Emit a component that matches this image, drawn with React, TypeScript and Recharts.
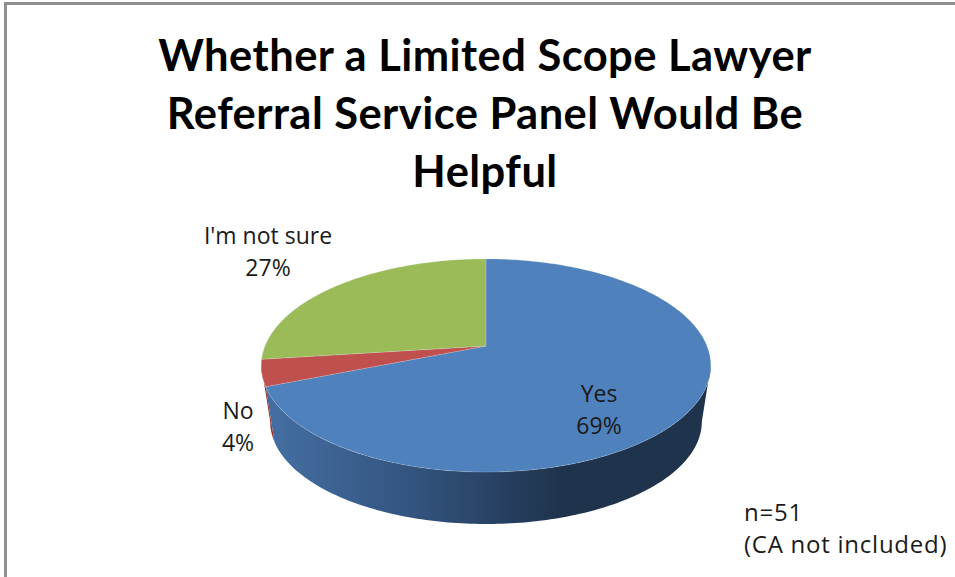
import React from 'react';
import { PieChart, Pie, Cell } from 'recharts';

const categories = ['Yes', 'No', "I'm not sure"];
const percents = [69, 4, 27];
const titleLines = ['Whether a Limited Scope Lawyer', 'Referral Service Panel Would Be', 'Helpful'];
const noteLines = ['n=51', '(CA not included)'];

const topColors = ['#4f81bd', '#c0504d', '#9bbb59'];
const wallColors = ['url(#blueWall)', '#953735', '#76923c'];

const data = categories.map((name, i) => ({ name, value: percents[i] }));

// where each data label sits (centre x, first baseline)
const labelAnchors = [
  { x: 599, y: 402 },
  { x: 238, y: 419 },
  { x: 268, y: 244 },
];

const CX = 486;
const CY = 346;
const RADIUS = 221;
const TILT = 0.466; // flattening of the disc
const K = 0.183; // perspective strength
const WALL_DROP = 57;
const WALL_SCALE = 0.96;
const TITLE_FONT = 'Lato, Carlito, Calibri, sans-serif';
const FONT = '"Open Sans", Carlito, Calibri, sans-serif';

// project a pie angle onto the tilted disc
const project = (deg: number, cx: number, cy: number, r: number, scale = 1, drop = 0) => {
  const rad = (deg * Math.PI) / 180;
  const u = Math.cos(rad);
  const v = -Math.sin(rad);
  const w = 1 - K * v;
  return [cx + (scale * r * u) / w, cy + drop + (scale * r * TILT * v) / w];
};

const arcPoints = (from: number, to: number, cx: number, cy: number, r: number, scale = 1, drop = 0) => {
  const steps = Math.max(2, Math.ceil(Math.abs(from - to)));
  const pts: number[][] = [];
  for (let i = 0; i <= steps; i++) {
    pts.push(project(from + ((to - from) * i) / steps, cx, cy, r, scale, drop));
  }
  return pts;
};

const toPath = (pts: number[][]) =>
  pts.map((p, i) => `${i ? 'L' : 'M'}${p[0].toFixed(2)},${p[1].toFixed(2)}`).join(' ') + ' Z';

const TopSlice = (props: any) => {
  const { cx, cy, outerRadius, startAngle, endAngle, fill } = props;
  const pts = [[cx, cy], ...arcPoints(startAngle, endAngle, cx, cy, outerRadius)];
  return <path d={toPath(pts)} fill={fill} stroke="#dfe6ee" strokeOpacity={0.35} strokeWidth={0.6} />;
};

// only the part of the rim that faces the viewer gets a wall
const WallSlice = (props: any) => {
  const { cx, cy, outerRadius, startAngle, endAngle, fill } = props;
  const tangent = (Math.asin(K) * 180) / Math.PI;
  const from = Math.min(startAngle, -tangent);
  const to = Math.max(endAngle, -180 + tangent);
  if (from <= to) return <g />;
  const upper = arcPoints(from, to, cx, cy, outerRadius);
  const lower = arcPoints(to, from, cx, cy, outerRadius, WALL_SCALE, WALL_DROP);
  return <path d={toPath([...upper, ...lower])} fill={fill} stroke="none" />;
};

const renderLabel = (props: any) => {
  const { index, name, value } = props;
  const a = labelAnchors[index];
  return (
    <text x={a.x} y={a.y} textAnchor="middle" fontFamily={FONT} fontSize={23} fill="#1a1a1a">
      <tspan x={a.x}>{name}</tspan>
      <tspan x={a.x} dy={32}>{`${value}%`}</tspan>
    </text>
  );
};

export default function App() {
  return (
    <div style={{ position: 'absolute', left: 0, top: 0, width: 955, height: 577, background: '#fff', overflow: 'hidden' }}>
      <div style={{ position: 'absolute', left: 4, top: 2, right: 0, height: 3, background: '#8f8f8f' }} />
      <div style={{ position: 'absolute', left: 4, top: 2, bottom: 0, width: 3, background: '#8f8f8f' }} />
      <PieChart width={955} height={577} margin={{ top: 0, right: 0, bottom: 0, left: 0 }}>
        <defs>
          <linearGradient id="blueWall" gradientUnits="userSpaceOnUse" x1={265} y1={0} x2={560} y2={0}>
            <stop offset="0%" stopColor="#456fa3" />
            <stop offset="50%" stopColor="#33547f" />
            <stop offset="100%" stopColor="#1f334d" />
          </linearGradient>
        </defs>
        {titleLines.map((line, i) => (
          <text
            key={line}
            x={485}
            y={71 + i * 58}
            textAnchor="middle"
            fontFamily={TITLE_FONT}
            fontWeight={700}
            fontSize={43.5}
            letterSpacing={0.45}
            fill="#000"
          >
            {line}
          </text>
        ))}
        <Pie
          data={data}
          dataKey="value"
          nameKey="name"
          cx={CX}
          cy={CY}
          outerRadius={RADIUS}
          startAngle={90}
          endAngle={-270}
          shape={WallSlice}
          stroke="none"
          isAnimationActive={false}
        >
          {data.map((d, i) => (
            <Cell key={d.name} fill={wallColors[i]} />
          ))}
        </Pie>
        <Pie
          data={data}
          dataKey="value"
          nameKey="name"
          cx={CX}
          cy={CY}
          outerRadius={RADIUS}
          startAngle={90}
          endAngle={-270}
          shape={TopSlice}
          stroke="none"
          label={renderLabel}
          labelLine={false}
          isAnimationActive={false}
        >
          {data.map((d, i) => (
            <Cell key={d.name} fill={topColors[i]} />
          ))}
        </Pie>
        {noteLines.map((line, i) => (
          <text key={line} x={744} y={521 + i * 32} fontFamily={FONT} fontSize={24} letterSpacing={0.75} fill="#1a1a1a">
            {line}
          </text>
        ))}
      </PieChart>
    </div>
  );
}
